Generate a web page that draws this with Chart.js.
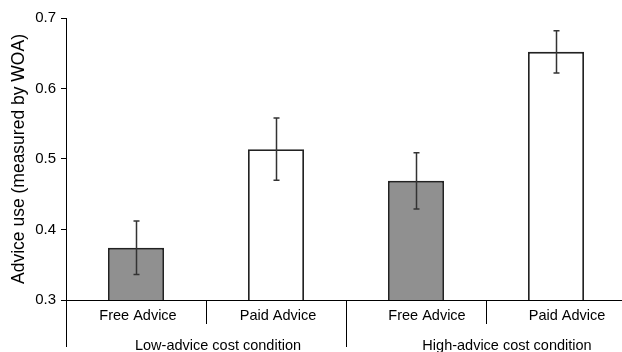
<!DOCTYPE html>
<html>
<head>
<meta charset="utf-8">
<script src="https://cdn.jsdelivr.net/npm/chart.js@4.4.1/dist/chart.umd.min.js"></script>
<style>
  html, body { margin: 0; padding: 0; background: #fff; overflow: hidden; }
  #wrap { width: 630px; height: 352px; }
</style>
</head>
<body>
<div id="wrap"><canvas id="chart" width="630" height="352"></canvas></div>
<script>
// Advice use (WOA) by advice price within each cost condition
const categories = ["Free Advice", "Paid Advice", "Free Advice", "Paid Advice"];
const groups = ["Low-advice cost condition", "High-advice cost condition"];
const adviceUse = [0.374, 0.514, 0.469, 0.652];
const errorHalf = [0.038, 0.044, 0.040, 0.030];
const barColors = ["#909090", "#ffffff", "#909090", "#ffffff"];
const yTicks = [0.3, 0.4, 0.5, 0.6, 0.7];

const FONT = "'Liberation Sans', Arial, Helvetica, sans-serif";

// Error bars, category/group labels and separators below the axis
const annotate = {
  id: "annotate",
  afterDatasetsDraw(chart) {
    const ctx = chart.ctx;
    const x = chart.scales.x, y = chart.scales.y;
    const area = chart.chartArea;
    ctx.save();

    // error bars
    ctx.strokeStyle = "#333";
    ctx.lineWidth = 1.5;
    adviceUse.forEach((v, i) => {
      const cx = Math.round(x.getPixelForValue(i)) + 0.5;
      const yt = y.getPixelForValue(v + errorHalf[i]);
      const yb = y.getPixelForValue(v - errorHalf[i]);
      ctx.beginPath();
      ctx.moveTo(cx, yt); ctx.lineTo(cx, yb);
      ctx.moveTo(cx - 3, yt); ctx.lineTo(cx + 3, yt);
      ctx.moveTo(cx - 3, yb); ctx.lineTo(cx + 3, yb);
      ctx.stroke();
    });

    // separators between categories (short) and between groups (long)
    ctx.strokeStyle = "#000";
    ctx.lineWidth = 1;
    const step = x.getPixelForValue(1) - x.getPixelForValue(0);
    for (let i = 0; i < categories.length; i++) {
      const bx = Math.round(x.getPixelForValue(i) - step / 2) + 0.5;
      const long = i % 2 === 0;
      ctx.beginPath();
      ctx.moveTo(bx, area.bottom);
      ctx.lineTo(bx, area.bottom + (long ? 47 : 24));
      ctx.stroke();
    }

    // category labels
    ctx.fillStyle = "#000";
    ctx.font = "14.5px " + FONT;
    ctx.textAlign = "center";
    ctx.textBaseline = "middle";
    const nudge = [2, 2, 11, 11];
    categories.forEach((c, i) => {
      ctx.fillText(c, x.getPixelForValue(i) + nudge[i], area.bottom + 16);
    });

    // group labels
    const groupNudge = [12, 21];
    groups.forEach((g, k) => {
      const gx = (x.getPixelForValue(2 * k) + x.getPixelForValue(2 * k + 1)) / 2;
      ctx.fillText(g, gx + groupNudge[k], area.bottom + 46);
    });
    ctx.restore();
  }
};

new Chart(document.getElementById("chart"), {
  type: "bar",
  data: {
    labels: categories,
    datasets: [{
      data: adviceUse,
      backgroundColor: barColors,
      borderColor: "#222",
      borderWidth: 1.8,
      categoryPercentage: 1.0,
      barPercentage: 0.4
    }]
  },
  options: {
    responsive: false,
    devicePixelRatio: 1,
    animation: false,
    layout: { padding: { left: 0, top: 18, right: 4, bottom: 0 } },
    plugins: { legend: { display: false }, tooltip: { enabled: false } },
    scales: {
      x: {
        grid: { display: false },
        border: { color: "#000", width: 1 },
        ticks: { display: false },
        afterFit(scale) { scale.height = 52; }
      },
      y: {
        min: 0.3,
        max: 0.7,
        afterBuildTicks(scale) { scale.ticks = yTicks.map(v => ({ value: v })); },
        grid: { drawOnChartArea: false, drawTicks: true, tickLength: 5, color: "#000" },
        border: { color: "#000", width: 1 },
        ticks: {
          padding: 5,
          color: "#000",
          font: { family: FONT, size: 15 },
          callback: v => v.toFixed(1)
        },
        title: {
          display: true,
          text: "Advice use (measured by WOA)",
          color: "#000",
          font: { family: FONT, size: 17.5 },
          padding: { top: 9, bottom: 0 }
        },
        afterFit(scale) { scale.width = 66; }
      }
    }
  },
  plugins: [annotate]
});
</script>
</body>
</html>
